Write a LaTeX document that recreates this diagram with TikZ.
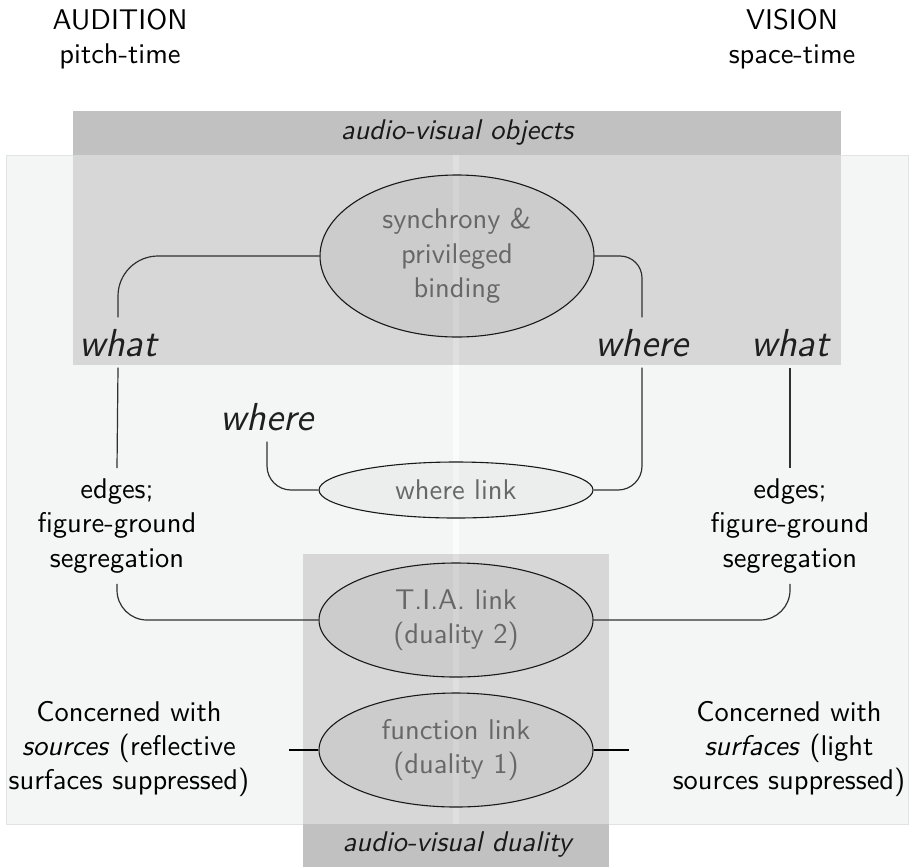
\documentclass[tikz,border=0pt]{standalone}
\usepackage{fontspec}
\usetikzlibrary{shapes.geometric}
\newcommand\pxu{0.3509pt}
\definecolor{panel}{HTML}{F4F6F6}
\definecolor{panelline}{HTML}{E2E4E4}
\definecolor{midgrey}{HTML}{D7D7D7}
\definecolor{darkband}{HTML}{C1C1C1}
\definecolor{stripeL}{HTML}{FAFBFB}
\definecolor{stripeM}{HTML}{DFDFDF}
\definecolor{elltext}{HTML}{676767}
\definecolor{connc}{HTML}{303030}
\begin{document}
\begin{tikzpicture}[x=\pxu, y=-\pxu,
  body/.style={font=\sffamily\fontsize{10}{12.1}\selectfont, align=center, inner sep=0pt},
  edgesbox/.style={body, inner sep=10*\pxu},
  bigit/.style={font=\sffamily\itshape\fontsize{13.7}{16}\selectfont, text=black!88,
    inner xsep=0pt, inner ysep=11*\pxu, text height=27*\pxu, text depth=0pt, anchor=base},
  bandtext/.style={font=\sffamily\itshape\fontsize{10}{12.1}\selectfont, text=black!90, inner sep=0pt},
  ell/.style={ellipse, draw=black!90, line width=1.1*\pxu, fill=black, fill opacity=0.05,
    text opacity=1, text=elltext, inner sep=0pt, align=center, minimum width=274*\pxu,
    font=\sffamily\fontsize{10}{12.1}\selectfont},
  conn/.style={draw=connc, line width=1.2*\pxu},
  thickconn/.style={draw=black, line width=2*\pxu}
]
\useasboundingbox (0,0) rectangle (909,867);
% panels
\fill[panel] (6,155) rectangle (908,824);
\draw[panelline, line width=1*\pxu] (6,155) rectangle (908,824);
\fill[midgrey] (73,155) rectangle (841,365);
\fill[midgrey] (303,554) rectangle (609,824);
\fill[darkband] (73,111) rectangle (841,155);
\fill[darkband] (303,824) rectangle (609,867);
% centre stripe
\fill[stripeM] (453,155) rectangle (459,365);
\fill[stripeL] (453,365) rectangle (459,554);
\fill[stripeM] (453,554) rectangle (459,824);

% headers
\node[body] (aud) at (120,39) {AUDITION\\pitch-time};
\node[body] (vis) at (792,39) {VISION\\space-time};
\node[bandtext] (avo) at (457,133) {audio-visual objects};
\node[bandtext] (avd) at (457,845) {audio-visual duality};

% ellipses
\node[ell, minimum height=162*\pxu] (sync) at (457,256) {synchrony \&\\privileged\\binding};
\node[ell, minimum height=56*\pxu, fill opacity=0.03] (wlink) at (456,490) {where link};
\node[ell, minimum height=114*\pxu] (tia) at (456,620) {T.I.A. link\\(duality 2)};
\node[ell, minimum height=114*\pxu] (func) at (456,750) {function link\\(duality 1)};

% italic labels
\node[bigit] (whatL) at (118,356) {what};
\node[bigit] (whereR) at (642,356) {where};
\node[bigit] (whatR) at (790,356) {what};
\node[bigit] (whereL) at (267,430) {where};

% text blocks
\node[edgesbox] (edgesL) at (117,526) {edges;\\figure-ground\\segregation};
\node[edgesbox] (edgesR) at (790,526) {edges;\\figure-ground\\segregation};
\node[body] (concL) at (129,749) {Concerned with\\\textit{sources} (reflective\\surfaces suppressed)};
\node[body] (concR) at (789,749) {Concerned with\\\textit{surfaces} (light\\sources suppressed)};

\coordinate (fL) at (289,750);
\coordinate (fR) at (629,750);

% connectors
\draw[conn, rounded corners=40*\pxu] (sync.west) -| (whatL.north);
\draw[conn, rounded corners=22*\pxu] (sync.east) -| (whereR.north);
\draw[conn] (whatL.south) -- (edgesL.north);
\draw[conn] (whatR.south) -- (edgesR.north);
\draw[conn, rounded corners=24*\pxu] (whereR.south) |- (wlink.east);
\draw[conn, rounded corners=24*\pxu] (whereL.south) |- (wlink.west);
\draw[conn, rounded corners=30*\pxu] (edgesL.south) |- (tia.west);
\draw[conn, rounded corners=30*\pxu] (edgesR.south) |- (tia.east);
\draw[thickconn] (fL) -- (func.west);
\draw[thickconn] (func.east) -- (fR);
\end{tikzpicture}
\end{document}
